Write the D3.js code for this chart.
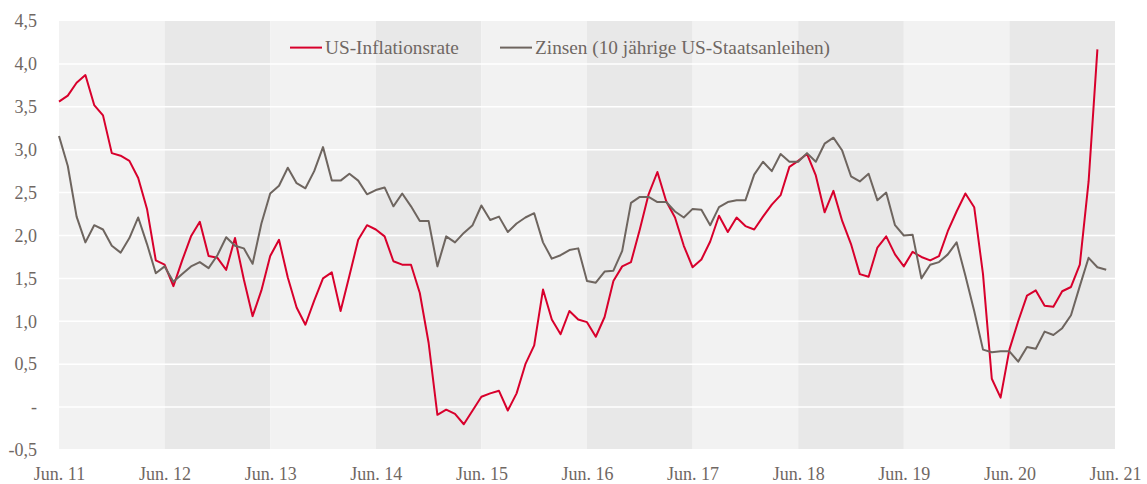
<!DOCTYPE html>
<html>
<head>
<meta charset="utf-8">
<script src="https://cdn.jsdelivr.net/npm/d3@7"></script>
<style>
  body { margin: 0; background: #fff; }
  text { font-family: 'Liberation Serif', serif; fill: #6f6763; }
</style>
</head>
<body>
<div id="chart"></div>
<script>
// Monthly values, Jun. 2011 onwards
const inflation = [
  3.56, 3.63, 3.78, 3.87, 3.52, 3.40, 2.96, 2.93, 2.87, 2.67, 2.31, 1.71,
  1.66, 1.41, 1.71, 1.99, 2.16, 1.76, 1.74, 1.60, 1.97, 1.49, 1.06, 1.36,
  1.76, 1.95, 1.51, 1.16, 0.96, 1.24, 1.50, 1.57, 1.12, 1.53, 1.95, 2.12,
  2.07, 1.99, 1.70, 1.66, 1.66, 1.33, 0.75, -0.09, -0.03, -0.08, -0.20, -0.04,
  0.12, 0.16, 0.19, -0.04, 0.16, 0.50, 0.72, 1.37, 1.02, 0.85, 1.12, 1.02,
  0.99, 0.82, 1.05, 1.47, 1.64, 1.69, 2.07, 2.48, 2.74, 2.40, 2.21, 1.88,
  1.63, 1.72, 1.93, 2.23, 2.04, 2.21, 2.11, 2.07, 2.22, 2.36, 2.47, 2.80,
  2.87, 2.95, 2.70, 2.27, 2.52, 2.17, 1.90, 1.55, 1.52, 1.86, 1.99, 1.78,
  1.64, 1.81, 1.75, 1.71, 1.76, 2.05, 2.28, 2.49, 2.33, 1.55, 0.33, 0.11,
  0.67, 1.00, 1.30, 1.36, 1.18, 1.17, 1.35, 1.40, 1.66, 2.63, 4.17
]
const yields = [
  3.16, 2.81, 2.22, 1.92, 2.12, 2.07, 1.88, 1.80, 1.97, 2.21, 1.90, 1.56,
  1.64, 1.46, 1.55, 1.64, 1.69, 1.62, 1.77, 1.98, 1.88, 1.85, 1.67, 2.14,
  2.49, 2.58, 2.79, 2.61, 2.55, 2.75, 3.03, 2.64, 2.64, 2.72, 2.64, 2.48,
  2.53, 2.56, 2.34, 2.49, 2.34, 2.17, 2.17, 1.64, 1.99, 1.92, 2.03, 2.12,
  2.35, 2.18, 2.22, 2.04, 2.14, 2.21, 2.26, 1.92, 1.73, 1.77, 1.83, 1.85,
  1.47, 1.45, 1.58, 1.59, 1.82, 2.38, 2.45, 2.45, 2.39, 2.39, 2.28, 2.21,
  2.31, 2.30, 2.12, 2.33, 2.39, 2.41, 2.41, 2.71, 2.86, 2.75, 2.95, 2.86,
  2.86, 2.96, 2.86, 3.07, 3.14, 2.99, 2.69, 2.63, 2.72, 2.41, 2.50, 2.12,
  2.00, 2.01, 1.50, 1.66, 1.69, 1.78, 1.92, 1.53, 1.12, 0.67, 0.64, 0.65,
  0.65, 0.53, 0.70, 0.68, 0.88, 0.84, 0.92, 1.07, 1.41, 1.74, 1.63, 1.60
]
const xTickLabels = ['Jun. 11', 'Jun. 12', 'Jun. 13', 'Jun. 14', 'Jun. 15', 'Jun. 16',
  'Jun. 17', 'Jun. 18', 'Jun. 19', 'Jun. 20', 'Jun. 21']
const yTicks = [-0.5, 0, 0.5, 1, 1.5, 2, 2.5, 3, 3.5, 4, 4.5]
const yTickLabels = ['-0,5', '-', '0,5', '1,0', '1,5', '2,0', '2,5', '3,0', '3,5', '4,0', '4,5']
const seriesNames = ['US-Inflationsrate', 'Zinsen (10 jährige US-Staatsanleihen)']

const width = 1147
const height = 484
const margin = { top: 21, right: 32, bottom: 34, left: 59 }

const svg = d3.select('#chart')
  .append('svg')
  .attr('width', width)
  .attr('height', height)

const x = d3.scaleLinear()
  .domain([0, (xTickLabels.length - 1) * 12])
  .range([margin.left, width - margin.right])
const y = d3.scaleLinear()
  .domain([-0.5, 4.5])
  .range([height - margin.bottom, margin.top])

// yearly background bands
const years = d3.range(xTickLabels.length - 1)
svg.append('g')
  .selectAll('rect')
  .data(years)
  .join('rect')
  .attr('x', d => x(d * 12))
  .attr('width', d => x(d * 12 + 12) - x(d * 12))
  .attr('y', y(4.5))
  .attr('height', y(-0.5) - y(4.5) - 1)
  .attr('fill', d => d % 2 ? '#e8e8e8' : '#f2f2f2')

// horizontal gridlines
svg.append('g')
  .selectAll('line')
  .data(yTicks.slice(1, -1))
  .join('line')
  .attr('x1', x.range()[0])
  .attr('x2', x.range()[1])
  .attr('y1', d => y(d))
  .attr('y2', d => y(d))
  .attr('stroke', '#fff')
  .attr('stroke-width', 1.5)

// y axis
const yAxis = svg.append('g')
  .attr('transform', `translate(${margin.left - 22},0)`)
  .call(d3.axisLeft(y).tickValues(yTicks).tickSize(0).tickPadding(0)
    .tickFormat((d, i) => yTickLabels[i]))
yAxis.select('.domain').remove()
yAxis.selectAll('text').style('font-size', '18px').attr('fill', '#6f6763')

// x axis
const xAxis = svg.append('g')
  .attr('transform', `translate(0,${height - margin.bottom})`)
  .call(d3.axisBottom(x).tickValues(d3.range(0, xTickLabels.length * 12, 12))
    .tickSize(0).tickPadding(17).tickFormat((d, i) => xTickLabels[i]))
xAxis.select('.domain').remove()
xAxis.selectAll('text').style('font-size', '18px').attr('fill', '#6f6763')

// lines
const line = d3.line()
  .x((d, i) => x(i))
  .y(d => y(d))

const colors = ['#d8002c', '#6e655f']
const series = [inflation, yields]

series.forEach((s, k) => {
  svg.append('path')
    .datum(s)
    .attr('fill', 'none')
    .attr('stroke', colors[k])
    .attr('stroke-width', 2)
    .attr('stroke-linejoin', 'round')
    .attr('d', line)
})

// legend
const legendX = [290, 500]
const legend = svg.append('g')
  .attr('transform', `translate(0,${y(4.19)})`)
seriesNames.forEach((name, k) => {
  legend.append('line')
    .attr('x1', legendX[k])
    .attr('x2', legendX[k] + 32)
    .attr('stroke', colors[k])
    .attr('stroke-width', 2)
  legend.append('text')
    .attr('x', legendX[k] + 35)
    .attr('dy', '0.33em')
    .style('font-size', '19.3px')
    .text(name)
})
</script>
</body>
</html>
